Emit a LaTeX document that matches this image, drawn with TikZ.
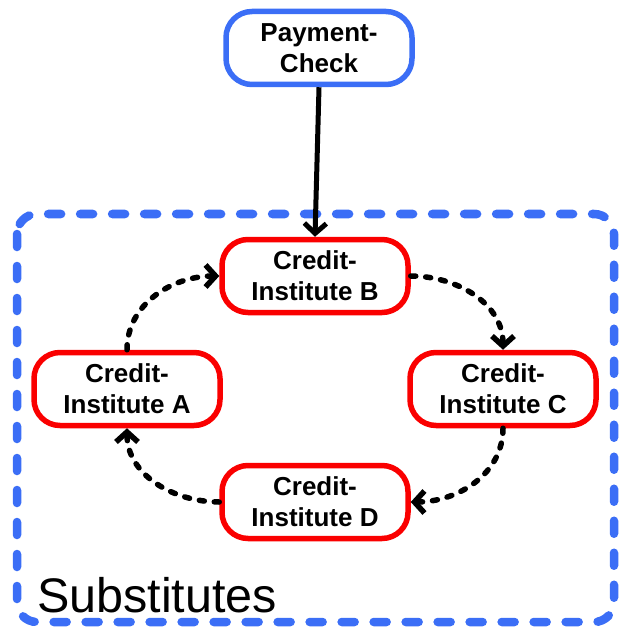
\documentclass[tikz,border=0pt]{standalone}
\usepackage{fontspec}
\setmainfont{Liberation Sans}
\usetikzlibrary{arrows.meta}
\definecolor{myblue}{RGB}{59,110,246}
\definecolor{myred}{RGB}{250,0,0}
\begin{document}
\begin{tikzpicture}[x=1pt,y=1pt,
  inst/.style={draw=myred,line width=5.5pt,rounded corners=26pt,minimum width=186pt,minimum height=73pt,align=center,font=\fontsize{26}{31}\selectfont\bfseries,inner sep=0pt},
  pay/.style={inst,draw=myblue},
  flow/.style={line width=5.5pt,dash pattern=on 5pt off 10pt,line cap=round,-{Straight Barb[length=10pt,width=22pt,line width=5.5pt]}},
  solidflow/.style={line width=5pt,-{Straight Barb[length=10pt,width=22pt,line width=5pt]}},
  frame/.style={draw=myblue,line width=8.5pt,dash pattern=on 13pt off 19pt,line cap=round,rounded corners=20pt}
]
\useasboundingbox (0,0) rectangle (619,-628);
\draw[frame] (17,-214) rectangle (614,-622);
\node[pay] (P) at (319,-48) {Payment-\\Check};
\node[inst] (B) at (315,-276) {Credit-\\Institute B};
\node[inst] (A) at (127,-389) {Credit-\\Institute A};
\node[inst] (C) at (503,-389) {Credit-\\Institute C};
\node[inst] (D) at (315,-502) {Credit-\\Institute D};
\node[anchor=base west,inner sep=0pt,font=\fontsize{48.5}{52}\selectfont] (S) at (37,-612) {Substitutes};
\draw[solidflow] (P.south) -- (B.north);
\draw[flow] (A.north) to[out=90,in=180] (B.west);
\draw[flow] (B.east) to[out=0,in=90] (C.north);
\draw[flow] (C.south) to[out=-90,in=0] (D.east);
\draw[flow] (D.west) to[out=180,in=-90] (A.south);
\end{tikzpicture}
\end{document}
